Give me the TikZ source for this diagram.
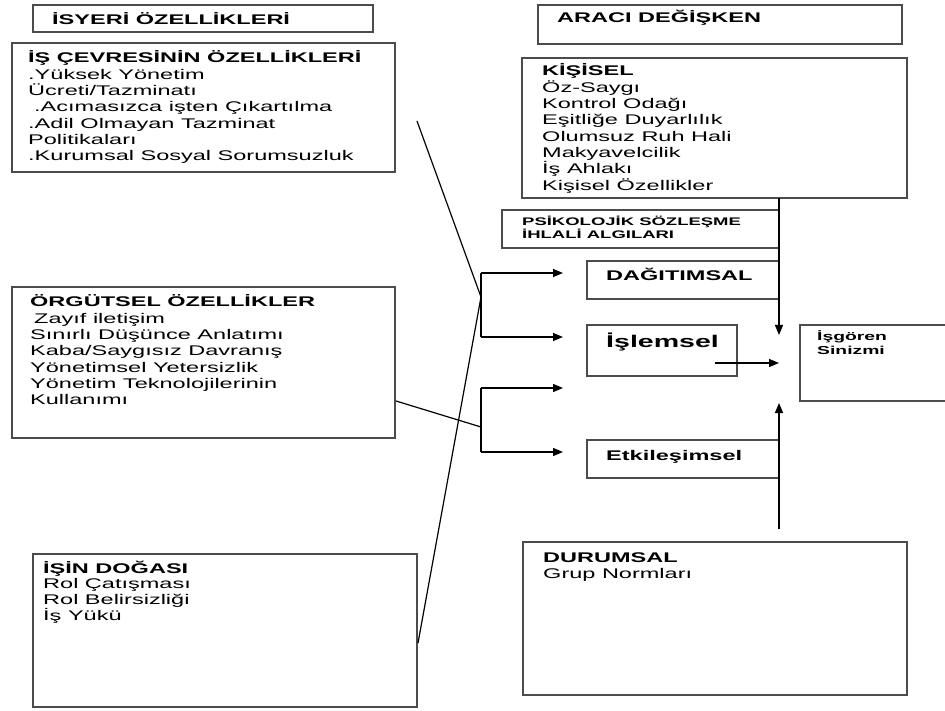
\documentclass[tikz,border=0pt]{standalone}
\usepackage{fontspec}
\setmainfont{Liberation Sans}[FakeStretch=1.68]
\usetikzlibrary{arrows.meta}
\newcommand{\metin}[1]{\parbox[t]{380pt}{\raggedright #1}}
\tikzset{
  kutu/.style={draw=black!70, line width=1.3pt, anchor=north west, inner sep=0pt, outer sep=0pt},
  yazi/.style={anchor=base west, inner sep=0pt, font=\fontsize{14}{16.3}\selectfont},
  kucuk/.style={yazi, font=\fontsize{11}{13}\selectfont\bfseries},
  ok/.style={line width=1.3pt, -{Triangle[length=10pt,width=8pt]}},
  cizgi/.style={line width=1.2pt}
}
\begin{document}
\begin{tikzpicture}[x=1pt,y=-1pt]
  \useasboundingbox (0,0) rectangle (945,711);

  %%%%% kutular
  \node[kutu, minimum width=340, minimum height=27] (isyeri) at (33,5) {};
  \node[kutu, minimum width=383, minimum height=129] (cevre) at (12,43) {};
  \node[kutu, minimum width=383, minimum height=151] (orgut) at (12,287) {};
  \node[kutu, minimum width=384, minimum height=153] (dogasi) at (33,554) {};
  \node[kutu, minimum width=364, minimum height=39] (araci) at (538,5) {};
  \node[kutu, minimum width=385, minimum height=140] (kisisel) at (522,58) {};
  \node[kutu, minimum width=277, minimum height=38] (psiko) at (502,210) {};
  \node[kutu, minimum width=192, minimum height=38] (dag) at (587,261) {};
  \node[kutu, minimum width=150, minimum height=51] (islem) at (587,325) {};
  \node[kutu, minimum width=192, minimum height=38] (etki) at (587,440) {};
  \node[kutu, minimum width=160, minimum height=76] (sinizm) at (800,325) {};
  \node[kutu, minimum width=384, minimum height=153] (durum) at (523,542) {};

  %%%%% yazilar
  \node[yazi] (isyeritxt) at (52,25) {\textbf{İSYERİ ÖZELLİKLERİ}};
  \node[yazi] (cevretxt) at (28,63) {\metin{\textbf{İŞ ÇEVRESİNİN ÖZELLİKLERİ}\\
    .Yüksek Yönetim\\ Ücreti/Tazminatı\\ \hspace*{6pt}.Acımasızca işten Çıkartılma\\
    .Adil Olmayan Tazminat\\ Politikaları\\ .Kurumsal Sosyal Sorumsuzluk}};
  \node[yazi] (orguttxt) at (30,307) {\metin{\textbf{ÖRGÜTSEL ÖZELLİKLER}\\
    \hspace*{4pt}Zayıf iletişim\\ Sınırlı Düşünce Anlatımı\\ Kaba/Saygısız Davranış\\
    Yönetimsel Yetersizlik\\ Yönetim Teknolojilerinin\\ Kullanımı}};
  \node[yazi, font=\fontsize{14}{15.8}\selectfont] (dogasitxt) at (43,573) {\metin{\textbf{İŞİN DOĞASI}\\
    Rol Çatışması\\ Rol Belirsizliği\\ İş Yükü}};
  \node[yazi] (aracitxt) at (557,23) {\textbf{ARACI DEĞİŞKEN}};
  \node[yazi] (kisiseltxt) at (542,76) {\metin{\textbf{KİŞİSEL}\\
    Öz-Saygı\\ Kontrol Odağı\\ Eşitliğe Duyarlılık\\ Olumsuz Ruh Hali\\
    Makyavelcilik\\ İş Ahlakı\\ Kişisel Özellikler}};
  \node[kucuk] (psikotxt) at (522,226) {\metin{PSİKOLOJİK SÖZLEŞME\\ İHLALİ ALGILARI}};
  \node[yazi] (dagtxt) at (606,281) {\textbf{DAĞITIMSAL}};
  \node[yazi, font=\fontsize{17}{20}\selectfont\bfseries] (islemtxt) at (606,347) {İşlemsel};
  \node[yazi] (etkitxt) at (606,460) {\textbf{Etkileşimsel}};
  \node[kucuk, font=\fontsize{11.5}{14}\selectfont\bfseries] (sinizmtxt) at (817,340) {\metin{İşgören\\ Sinizmi}};
  \node[yazi] (durumtxt) at (543,562) {\metin{\textbf{DURUMSAL}\\ Grup Normları}};

  %%%%% baglantilar
  \coordinate (s1) at (417,121);
  \coordinate (s2) at (396,401);
  \coordinate (s3) at (418,643);
  \coordinate (j1) at (481,297);
  \coordinate (j2) at (481,427);
  \coordinate (c1) at (481,273);
  \coordinate (c2) at (481,337);
  \coordinate (c3) at (481,388);
  \coordinate (c4) at (481,452);
  \coordinate (t1) at (563,273);
  \coordinate (t2) at (563,337);
  \coordinate (t3) at (563,388);
  \coordinate (t4) at (563,452);
  \coordinate (ustuc) at (779,335);
  \coordinate (altbas) at (779,529);
  \coordinate (altuc) at (779,403);
  \coordinate (icbas) at (715,363);
  \coordinate (ictuc) at (779,363);

  \draw[cizgi] (s1) -- (j1) -- (s3);
  \draw[cizgi] (s2) -- (j2);
  \draw[cizgi] (c1) -- (c2);
  \draw[cizgi] (c3) -- (c4);
  \draw[ok] (c1) -- (t1);
  \draw[ok] (c2) -- (t2);
  \draw[ok] (c3) -- (t3);
  \draw[ok] (c4) -- (t4);

  \draw[ok] (kisisel.south -| dag.east) -- (ustuc);
  \draw[ok] (altbas) -- (altuc);
  \draw[ok] (icbas) -- (ictuc);
\end{tikzpicture}
\end{document}
